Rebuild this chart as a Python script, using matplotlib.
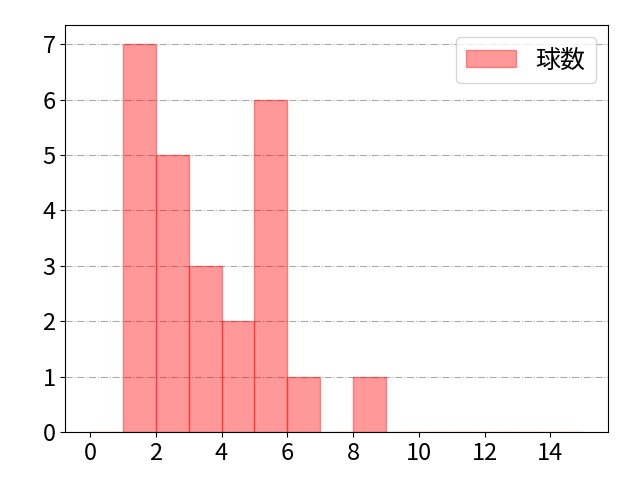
import matplotlib
matplotlib.use("Agg")
import matplotlib.pyplot as plt
import numpy as np

plt.rcParams['font.family'] = ['Noto Sans CJK JP', 'DejaVu Sans']

bin_edges = list(range(0, 16))
counts = [0, 7, 5, 3, 2, 6, 1, 0, 1, 0, 0, 0, 0, 0, 0]
label = "球数"

fig, ax = plt.subplots(figsize=(6.4, 4.8), dpi=100)
centers = [(bin_edges[i] + bin_edges[i + 1]) / 2 for i in range(len(counts))]
ax.hist(centers, bins=bin_edges, weights=counts, color='red', alpha=0.4,
        edgecolor='red', linewidth=1, label=label)
ax.grid(axis='y', color='#aaaaaa', linestyle='-.', linewidth=0.8)
ax.set_axisbelow(True)
ax.set_xticks(range(0, 15, 2))
ax.set_yticks(range(0, 8))
ax.tick_params(labelsize=17)
ax.legend(fontsize=18, loc='upper right')
fig.subplots_adjust(left=0.102, right=0.95, top=0.948, bottom=0.1)
fig.savefig("out.png", dpi=100)
